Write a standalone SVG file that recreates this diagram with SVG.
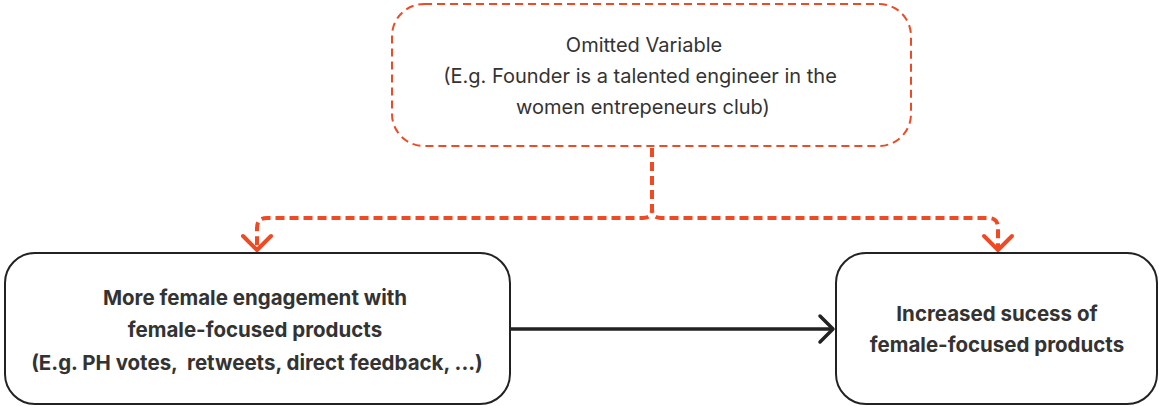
<svg xmlns="http://www.w3.org/2000/svg" width="1159" height="406" viewBox="0 0 1159 406">
  <defs>
    <style>
      .box { fill: #ffffff; stroke: #222222; stroke-width: 2; }
      .dashed { fill: #ffffff; stroke: #f04a25; stroke-width: 2; stroke-dasharray: 8 5; }
      .link-dash { fill: none; stroke: #f04a25; stroke-width: 4; stroke-dasharray: 9 5; }
      .head-dash { fill: none; stroke: #f04a25; stroke-width: 4; stroke-linecap: round; stroke-linejoin: round; }
      .link { fill: none; stroke: #222222; stroke-width: 3.5; }
      .head { fill: none; stroke: #222222; stroke-width: 3.5; stroke-linecap: round; stroke-linejoin: round; }
      .t { font-family: Inter, "Liberation Sans", sans-serif; font-size: 20px; fill: #333333; text-anchor: middle; }
      .b { font-family: Inter, "Liberation Sans", sans-serif; font-size: 20.5px; font-weight: 700; fill: #333333; text-anchor: middle; white-space: pre; }
    </style>
  </defs>

  <g id="connectors">
    <!-- omitted variable splits to both outcomes -->
    <path class="link-dash" d="M652 148 V209 Q652 218 643 218 H267 Q257 218 257 228 V247"/>
    <path class="link-dash" d="M652 148 V209 Q652 218 661 218 H988 Q998 218 998 228 V247"/>
    <path class="head-dash" d="M243 236 L257 250 L271 236"/>
    <path class="head-dash" d="M984 236 L998 250 L1012 236"/>
    <!-- engagement drives success -->
    <path class="link" d="M511 329 H833"/>
    <path class="head" d="M820 316 L833 329 L820 342"/>
  </g>

  <g id="omitted-variable">
    <rect class="dashed" x="392" y="4" width="519" height="142" rx="32"/>
    <text class="t" x="644" y="52">Omitted Variable</text>
    <text class="t" x="640" y="83">(E.g. Founder is a talented engineer in the</text>
    <text class="t" x="643" y="114">women entrepeneurs club)</text>
  </g>

  <g id="engagement">
    <rect class="box" x="5" y="253" width="505" height="151" rx="30"/>
    <text class="b" x="255" y="305">More female engagement with</text>
    <text class="b" x="255" y="337">female-focused products</text>
    <text class="b" x="257" y="370" xml:space="preserve">(E.g. PH votes,  retweets, direct feedback, ...)</text>
  </g>

  <g id="success">
    <rect class="box" x="836" y="253" width="321" height="151" rx="30"/>
    <text class="b" x="997" y="321">Increased sucess of</text>
    <text class="b" x="997" y="352">female-focused products</text>
  </g>
</svg>
